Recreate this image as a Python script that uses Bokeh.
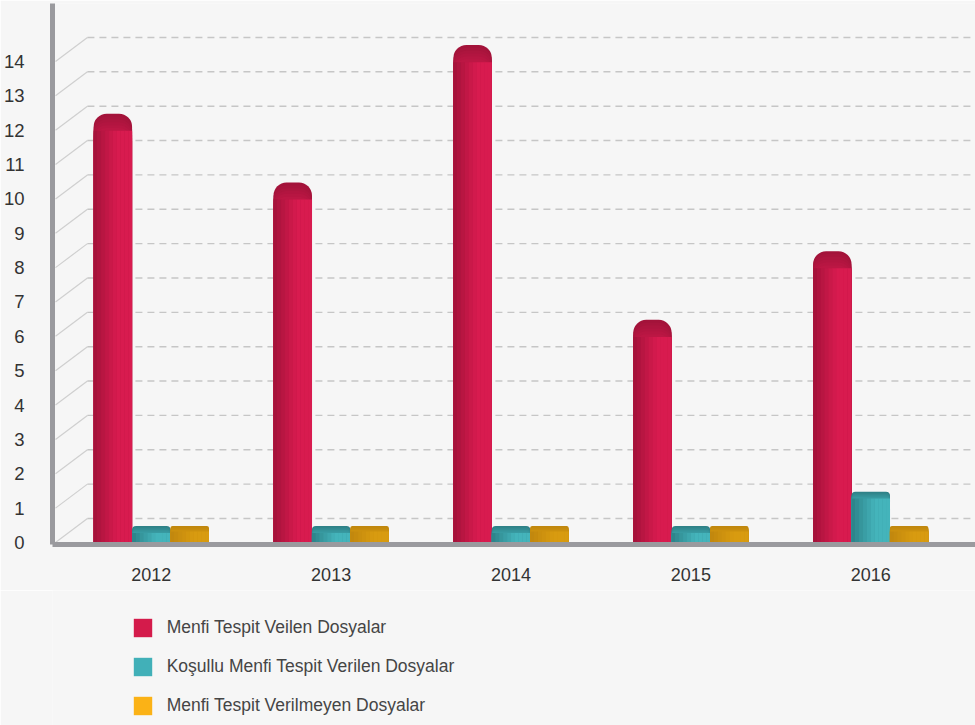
import numpy as np
from bokeh.plotting import figure
from bokeh.layouts import column
from bokeh.models import Range1d, FixedTicker, Legend, LegendItem
from bokeh.embed import file_html
from bokeh.resources import INLINE

# ---- data ----
years = ["2012", "2013", "2014", "2015", "2016"]
menfi = [12, 10, 14, 6, 8]
kosullu = [0, 0, 0, 0, 1]
verilmeyen = [0, 0, 0, 0, 0]
y_ticks = list(range(0, 15))
series_names = ["Menfi Tespit Veilen Dosyalar",
                "Koşullu Menfi Tespit Verilen Dosyalar",
                "Menfi Tespit Verilmeyen Dosyalar"]

# ---- geometry / style ----
PX_X = 180.25
PX_Y = 34.36
W = 975
MAIN_H = 590
LEG_H = 135
LEFT = 50
TOP = 3
FRAME_W = W - LEFT
FRAME_H = 541
x_start = -99 / PX_X
y_start = -2 / PX_Y
BG = "#f6f6f6"

p = figure(width=W, height=MAIN_H,
           x_range=Range1d(x_start, x_start + FRAME_W / PX_X),
           y_range=Range1d(y_start, y_start + FRAME_H / PX_Y),
           output_backend="svg", toolbar_location=None,
           min_border_left=LEFT, min_border_right=0, min_border_top=TOP,
           min_border_bottom=MAIN_H - TOP - FRAME_H)
p.background_fill_color = BG
p.border_fill_color = BG
p.outline_line_color = None
p.xgrid.visible = False
p.ygrid.visible = False

# back wall grid (pseudo 3D)
dxb = 32 / PX_X
dyb = 24 / PX_Y
xd0 = x_start + 3 / PX_X
xd1 = xd0 + dxb
x_end = x_start + FRAME_W / PX_X
p.segment(x0=[xd0] * len(y_ticks), y0=y_ticks,
          x1=[xd1] * len(y_ticks), y1=[v + dyb for v in y_ticks],
          line_color="#cfcfcf", line_width=1.2)
p.segment(x0=[xd1] * len(y_ticks), y0=[v + dyb for v in y_ticks],
          x1=[x_end] * len(y_ticks), y1=[v + dyb for v in y_ticks],
          line_color="#c6c6c6", line_width=1.4, line_dash="7 5")

# bars
xs = np.arange(len(years), dtype=float)
bw = 38.5 / PX_X
cap_h = 0.48


def hex2rgb(h):
    h = h.lstrip("#")
    return [int(h[i:i + 2], 16) for i in (0, 2, 4)]


def lerp(c1, c2, t):
    a, b = hex2rgb(c1), hex2rgb(c2)
    return "#%02x%02x%02x" % tuple(int(round(a[i] + (b[i] - a[i]) * t)) for i in range(3))


series = [
    # vals, offset, left col, right col, cap col, radius, cap depth
    (menfi, -bw, "#a6133b", "#d81b4f", "#a3133a", 13, 0.5),
    (kosullu, 0.0, "#2e858b", "#44b4bb", "#2f8187", 4, 0.2),
    (verilmeyen, bw, "#c2880e", "#d89b10", "#c0870e", 2, 0.16),
]
NS = 10
NB = 6
for vals, off, cl, cr, ccap, rad, capd in series:
    v = np.array(vals, dtype=float)
    tops = v + cap_h
    mid = lerp(cl, cr, 0.45)
    for k in range(NB):
        t = k / (NB - 1)
        p.vbar(x=xs + off, width=bw, top=tops - k * capd / NB, bottom=0,
               fill_color=lerp(ccap, mid, t), line_color=None,
               border_radius=(rad, rad, 0, 0))
    for i in range(NS):
        t = i / (NS - 1)
        tt = min(1.0, t * 1.6)
        col = lerp(cl, cr, tt)
        left = xs + off - bw / 2 + i * bw / NS
        p.quad(left=left, right=left + bw / NS + 0.0005, bottom=0,
               top=tops - capd, fill_color=col, line_color=None)

# axes
p.yaxis.ticker = FixedTicker(ticks=y_ticks)
p.yaxis.minor_tick_line_color = None
p.yaxis.major_tick_line_color = None
p.yaxis.axis_line_color = "#9a9a9e"
p.yaxis.axis_line_width = 5
p.yaxis.major_label_standoff = 22
p.yaxis.major_label_text_font = "Liberation Sans"
p.yaxis.major_label_text_font_size = "18.5px"
p.yaxis.major_label_text_color = "#333333"

p.xaxis.ticker = FixedTicker(ticks=list(xs))
p.xaxis.major_label_overrides = {i: y for i, y in enumerate(years)}
p.xaxis.minor_tick_line_color = None
p.xaxis.major_tick_line_color = None
p.xaxis.axis_line_color = "#9a9a9e"
p.xaxis.axis_line_width = 5
p.xaxis.major_label_standoff = 17
p.xaxis.major_label_text_font = "Liberation Sans"
p.xaxis.major_label_text_font_size = "18px"
p.xaxis.major_label_text_color = "#333333"

# ---- legend strip below the chart ----
q = figure(width=W, height=LEG_H, x_range=Range1d(0, 1), y_range=Range1d(0, 1),
           output_backend="svg", toolbar_location=None,
           x_axis_location=None, y_axis_location=None,
           min_border_left=0, min_border_right=0, min_border_top=0,
           min_border_bottom=0)
q.background_fill_color = BG
q.border_fill_color = BG
q.outline_line_color = None
q.xgrid.visible = False
q.ygrid.visible = False

leg_cols = ["#d41b4b", "#41b0b8", "#fbb216"]
items = []
for name, col in zip(series_names, leg_cols):
    # legend handle only: a swatch placed outside the visible range
    r = q.quad(left=[-3], right=[-2], bottom=[-3], top=[-2],
               fill_color=col, line_color=None)
    items.append(LegendItem(label=name, renderers=[r]))
legend = Legend(items=items, location=(78.7, 8.3), orientation="vertical",
                glyph_width=23, glyph_height=23, label_height=23,
                spacing=16, label_standoff=13, padding=0, margin=0,
                border_line_color=None, background_fill_alpha=0,
                label_text_font="Liberation Sans", label_text_font_size="17.5px",
                label_text_color="#454545")
q.add_layout(legend, "center")

layout = column(p, q, spacing=0)
open("out.html", "w").write(file_html(layout, INLINE))
